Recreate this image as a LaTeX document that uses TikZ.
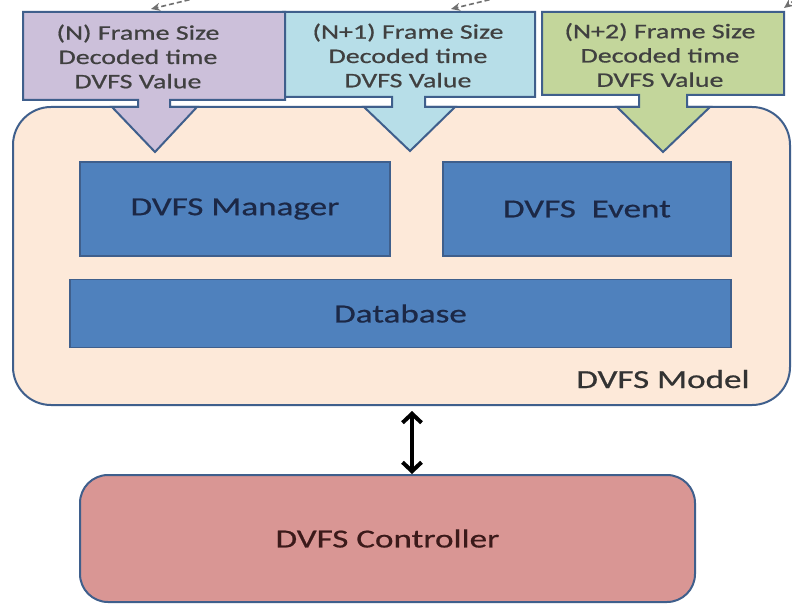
\documentclass[tikz,border=0pt]{standalone}
\usepackage{fontspec}
\setmainfont{Carlito}[FakeStretch=1.35,FakeBold=0.7]
\usetikzlibrary{arrows.meta,calc}
\definecolor{purp}{HTML}{CCC0DA}
\definecolor{lblue}{HTML}{B7DEE8}
\definecolor{lgreen}{HTML}{C3D69B}
\definecolor{bord}{HTML}{3F5F8C}
\definecolor{peach}{HTML}{FDE9D9}
\definecolor{inner}{HTML}{4F81BD}
\definecolor{ctrlc}{HTML}{D99694}
\definecolor{toptext}{HTML}{404040}
\definecolor{navytext}{HTML}{1C2846}
\definecolor{modeltext}{HTML}{333333}
\definecolor{ctrltext}{HTML}{3B1A1A}
\definecolor{dashgray}{HTML}{707070}
\begin{document}
\begin{tikzpicture}[x=1pt,y=-1pt,
  callout/.style={draw=bord,line width=2pt,line join=miter},
  toplbl/.style={inner sep=0pt,align=center,text=toptext,font=\fontsize{20.7}{24.3}\selectfont},
  innerbox/.style={draw=bord,line width=1.5pt,fill=inner,inner sep=0pt,text=navytext,font=\fontsize{26}{30}\selectfont},
  bigbox/.style={draw=bord,line width=2pt,inner sep=0pt},
  dashedarrow/.style={draw=dashgray,dash pattern=on 5pt off 3pt,line width=1.6pt,-{Stealth[length=9pt,width=8pt]}},
  dblarrow/.style={line width=4pt,{Straight Barb[length=9pt,width=19pt]}-{Straight Barb[length=9pt,width=19pt]}}
]
\useasboundingbox (0,0) rectangle (792,604);
\fill[white] (0,0) rectangle (792,604);

% model container
\node[bigbox,fill=peach,rounded corners=38pt,minimum width=777pt,minimum height=298pt] (model) at (401.5,256) {};
\node[anchor=base,inner sep=0pt,text=modeltext,font=\fontsize{26}{30}\selectfont] (modellbl) at (663,388) {DVFS Model};

% callouts (N+1 drawn first, behind N)
\draw[callout,fill=lblue] (283,12) -- (535,12) -- (535,97) -- (425,97) -- (425,107) -- (455,107)
  -- (410,151) -- (364,107) -- (392,107) -- (392,97) -- (283,97) -- cycle;
\draw[callout,fill=purp] (23,12) -- (285,12) -- (285,100) -- (170,100) -- (170,107) -- (197,107)
  -- (155,152) -- (112,107) -- (138,107) -- (138,100) -- (23,100) -- cycle;
\draw[callout,fill=lgreen] (542,12) -- (784,12) -- (784,95) -- (687,95) -- (687,107) -- (710,107)
  -- (663,152) -- (617,107) -- (639,107) -- (639,95) -- (542,95) -- cycle;

\node[toplbl] (tN) at (138,56.5) {(N) Frame Size\\Decoded time\\DVFS Value};
\node[toplbl] (tN1) at (408,55.5) {(N+1) Frame Size\\Decoded time\\DVFS Value};
\node[toplbl] (tN2) at (660,55) {(N+2) Frame Size\\Decoded time\\DVFS Value};

% dashed arrows entering from above
\begin{scope}
\clip (0,0) rectangle (792,604);
\coordinate (d1s) at (205,-4);
\coordinate (d1e) at (151,9);
\coordinate (d2s) at (505,-4);
\coordinate (d2e) at (451,9);
\coordinate (d3s) at (808,-10);
\coordinate (d3e) at (784,8);
\draw[dashedarrow] (d1s) -- (d1e);
\draw[dashedarrow] (d2s) -- (d2e);
\draw[dashedarrow] (d3s) -- (d3e);
\end{scope}

% inner boxes
\node[innerbox,minimum width=310pt,minimum height=94pt] (mgr) at (235,209) {DVFS Manager};
\node[innerbox,minimum width=288pt,minimum height=94pt] (evt) at (587,209) {DVFS\ \ Event};
\node[innerbox,minimum width=661pt,minimum height=68pt] (db) at (400.5,313.5) {Database};

% controller
\node[bigbox,fill=ctrlc,rounded corners=28pt,minimum width=615pt,minimum height=127pt,
  text=ctrltext,font=\fontsize{26}{30}\selectfont] (ctrl) at (387.5,538.5) {DVFS Controller};

% bidirectional arrow
\coordinate (ax) at (412,0);
\draw[dblarrow] ($(model.south -| ax)+(0,5)$) -- (ctrl.north -| ax);
\end{tikzpicture}
\end{document}
